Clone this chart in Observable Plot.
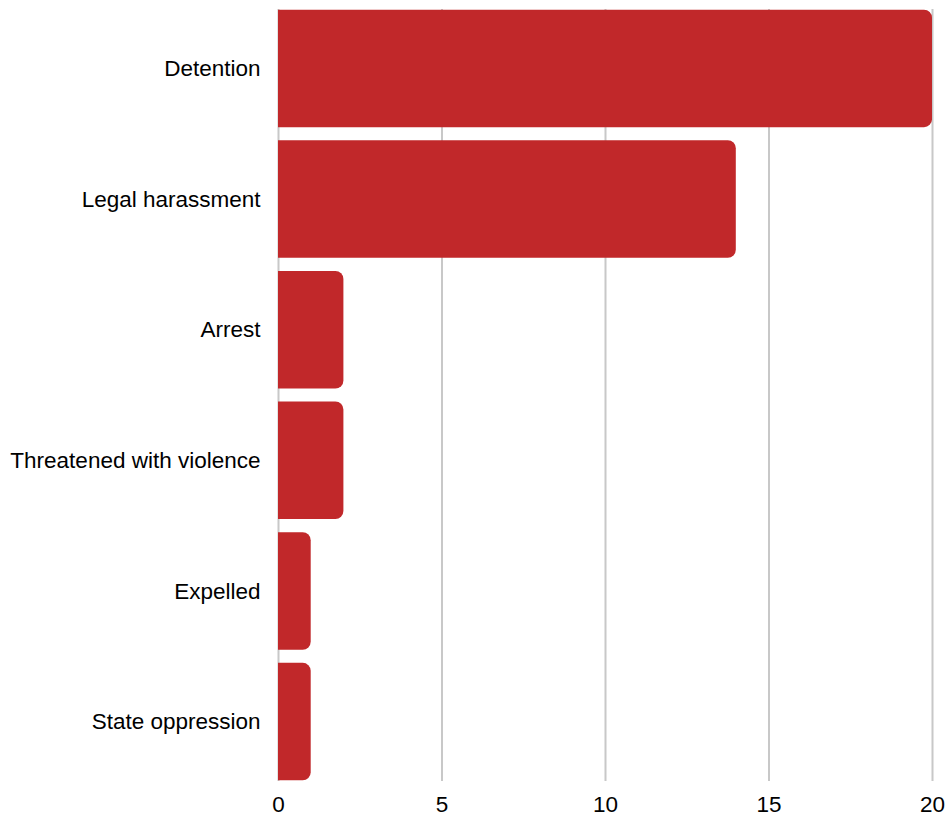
<!DOCTYPE html>
<html>
<head>
<meta charset="utf-8">
<script src="https://cdn.jsdelivr.net/npm/d3@7"></script>
<script src="https://cdn.jsdelivr.net/npm/@observablehq/plot@0.6"></script>
<style>
  html, body { margin: 0; padding: 0; background: #fff; }
  #chart svg { display: block; }
</style>
</head>
<body>
<div id="chart"></div>
<script>
const categories = ["Detention", "Legal harassment", "Arrest", "Threatened with violence", "Expelled", "State oppression"];
const counts = [20, 14, 2, 2, 1, 1];
const xTicks = [0, 5, 10, 15, 20];

const data = categories.map((c, i) => ({category: c, count: counts[i]}));
const barColor = "#c1282a";

const chart = Plot.plot({
  width: 947,
  height: 817,
  marginLeft: 278,
  marginRight: 15,
  marginTop: 9,
  marginBottom: 36,
  style: {fontFamily: "'Liberation Sans', Arial, sans-serif", fontSize: "22.5px", color: "#000", background: "#fff", overflow: "visible"},
  x: {domain: [0, 20], ticks: xTicks, tickSize: 0, tickPadding: 15, label: null},
  y: {domain: categories, paddingInner: 0.1, paddingOuter: 0.005, round: false, tickSize: 0, tickPadding: 18, label: null},
  marks: [
    Plot.ruleX(xTicks, {stroke: "#c8c8c8", strokeWidth: 2}),
    // rounded bars, extended left past zero so only the right corners stay rounded after clipping
    Plot.barX(data, {x1: -0.5, x2: "count", y: "category", fill: barColor, rx: 8, clip: true})
  ]
});
document.getElementById("chart").appendChild(chart);
</script>
</body>
</html>
